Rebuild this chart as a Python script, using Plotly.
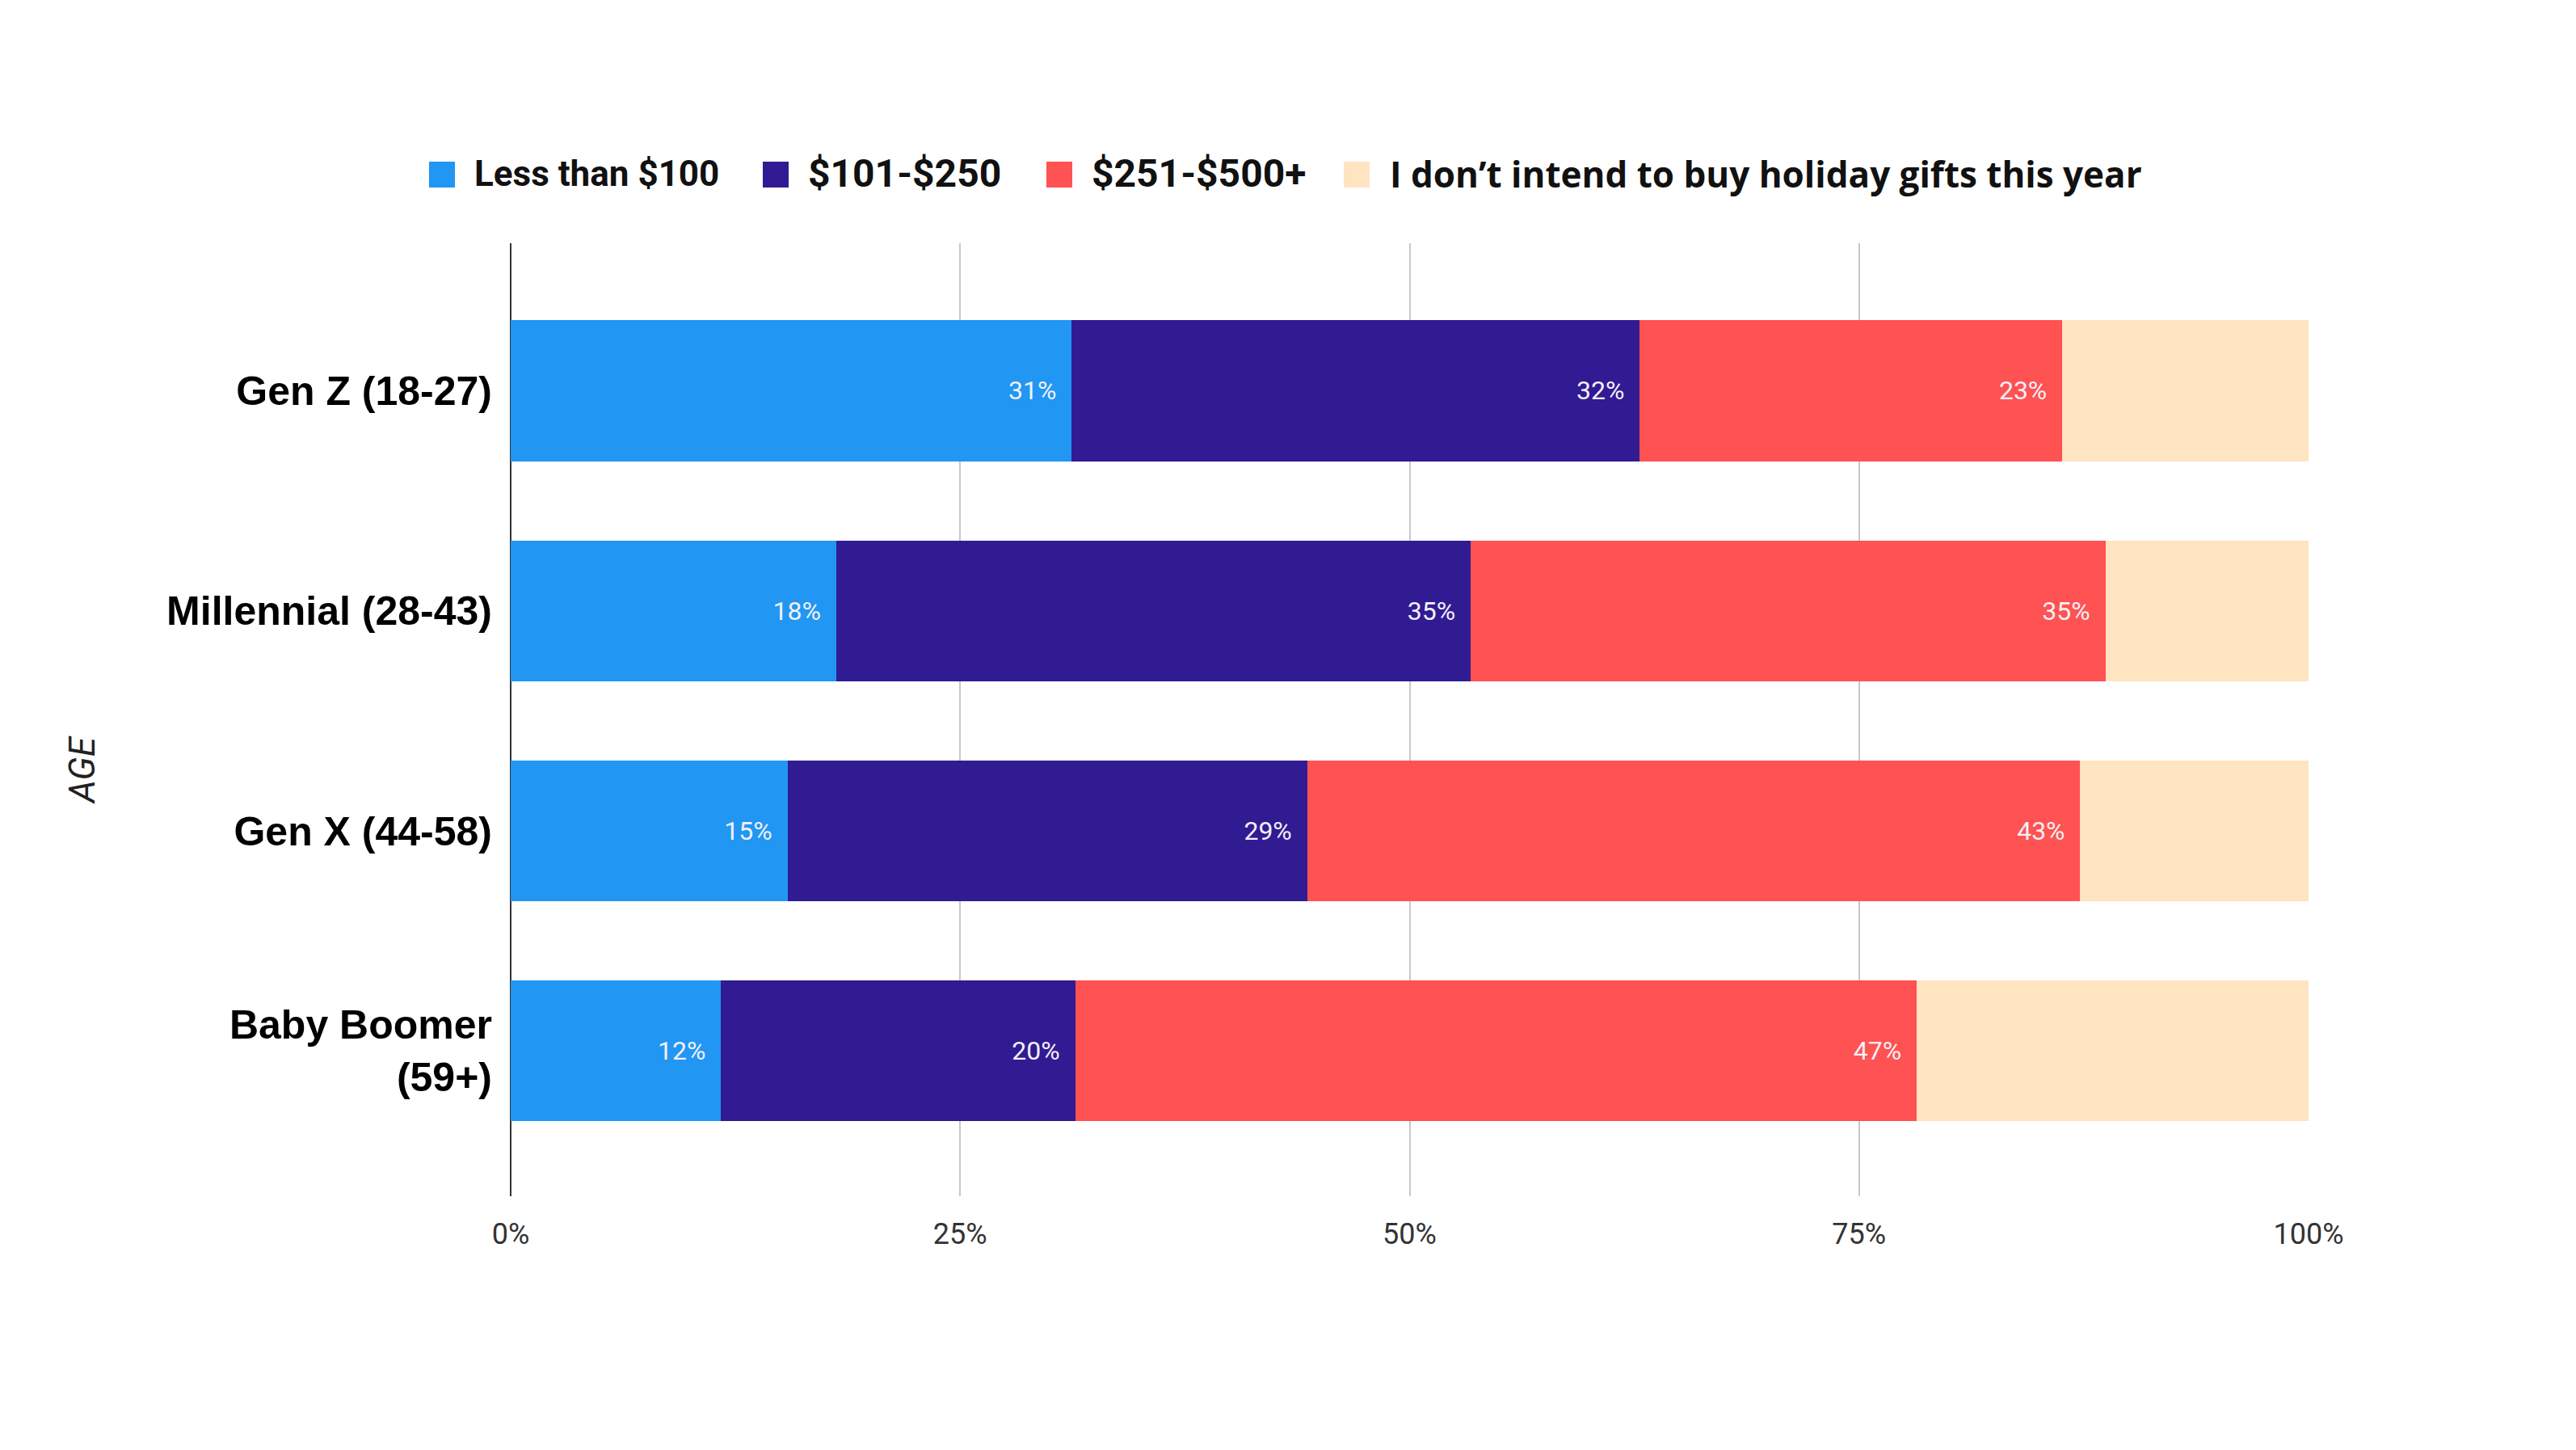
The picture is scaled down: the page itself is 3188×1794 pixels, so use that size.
import plotly.graph_objects as go

categories = ["Gen Z (18-27)", "Millennial (28-43)", "Gen X (44-58)", "Baby Boomer<br>(59+)"]
series_names = ["Less than $100", "$101-$250", "$251-$500+", "I don\u2019t intend to buy holiday gifts this year"]
less_100 = [31.2, 18.1, 15.4, 11.7]
s101_250 = [31.6, 35.3, 28.9, 19.7]
s251_500 = [23.5, 35.3, 43.0, 46.8]
no_gifts = [13.7, 11.3, 12.7, 21.8]
label_less_100 = ["31%", "18%", "15%", "12%"]
label_101_250 = ["32%", "35%", "29%", "20%"]
label_251_500 = ["23%", "35%", "43%", "47%"]
x_tickvals = [0, 25, 50, 75, 100]
x_ticktext = ["0%", "25%", "50%", "75%", "100%"]
axis_title = "AGE"

colors = ["#2196F3", "#311B92", "#FF5252", "#FFE4C2"]
legend_fonts = ["Roboto", "Roboto", "Roboto", "Open Sans"]
legend_sizes = [44, 48, 48, 44]

W, H = 3188, 1794
L, R, T, B = 632, 331, 301, 314
PW, PH = W - L - R, H - T - B

def px_x(x):
    return (x - L) / PW

def px_y(y):
    return (H - B - y) / PH

fig = go.Figure()
series = [less_100, s101_250, s251_500, no_gifts]
labels = [label_less_100, label_101_250, label_251_500, None]
for name, vals, lab, col in zip(series_names, series, labels, colors):
    fig.add_trace(go.Bar(
        y=categories, x=vals, orientation="h", name=name,
        marker=dict(color=col, line=dict(width=0)),
        text=[t + "\u00a0\u00a0" for t in lab] if lab else None,
        textposition="inside" if lab else "none",
        insidetextanchor="end",
        textfont=dict(family="Roboto", size=32, color="#F2F0F7"),
        showlegend=False,
        width=0.64,
        hoverinfo="skip",
    ))

fig.update_layout(
    barmode="stack",
    width=W, height=H,
    margin=dict(l=L, r=R, t=T, b=B, autoexpand=False),
    paper_bgcolor="white", plot_bgcolor="white",
    showlegend=False,
    font=dict(family="Roboto", color="#222222"),
)
fig.update_xaxes(
    range=[0, 100], tickvals=x_tickvals, ticktext=x_ticktext,
    showgrid=True, gridcolor="#C8C8C8", gridwidth=2,
    zeroline=True, zerolinecolor="#333333", zerolinewidth=2,
    showline=False, ticks="",
    tickfont=dict(family="Roboto", size=36, color="#333333"),
    ticklabelstandoff=22,
)
fig.update_yaxes(
    range=[3.66, -0.67], type="category",
    showgrid=False, zeroline=False, showline=False, ticks="",
    tickfont=dict(family="Liberation Sans", size=50, color="#000000", weight="bold"),
    ticklabelstandoff=22,
)

# Legend drawn manually (large square swatches)
legend_sq_cx = [547, 960, 1311, 1679]
legend_txt_x = [585, 998, 1349, 1718]
legend_cy = 215
sq = 32
for name, col, cx, tx, fam, fs in zip(series_names, colors, legend_sq_cx, legend_txt_x, legend_fonts, legend_sizes):
    fig.add_shape(type="rect", xref="paper", yref="paper",
                  x0=px_x(cx - sq / 2), x1=px_x(cx + sq / 2),
                  y0=px_y(216 + sq / 2), y1=px_y(216 - sq / 2),
                  fillcolor=col, line=dict(width=0), layer="above")
    fig.add_annotation(xref="paper", yref="paper", x=px_x(tx), y=px_y(legend_cy),
                       xanchor="left", yanchor="middle", showarrow=False,
                       text="<b>" + name + "</b>",
                       font=dict(family=fam, size=fs, color="#111111"))

fig.add_annotation(xref="paper", yref="paper", x=px_x(102), y=px_y(953),
                   xanchor="center", yanchor="middle", showarrow=False,
                   text="<i>" + axis_title + "</i>", textangle=-90,
                   font=dict(family="Roboto", size=44, color="#222222"))

fig.write_html("out.html")
